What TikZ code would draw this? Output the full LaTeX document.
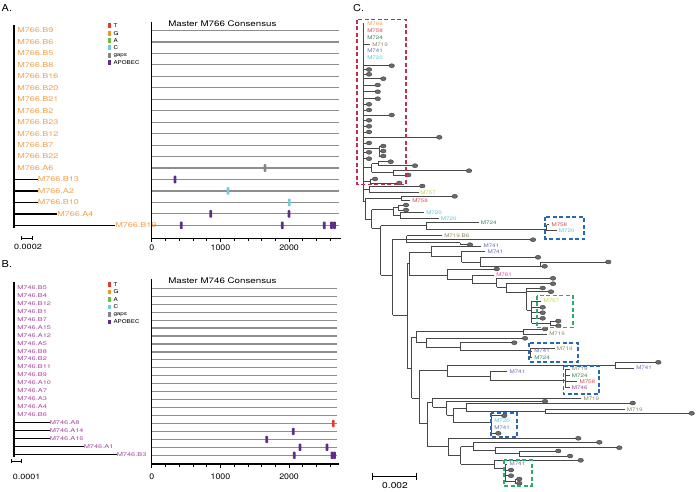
\documentclass[tikz,border=0pt]{standalone}
\usepackage{fontspec}
\setmainfont{TeX Gyre Heros}
\definecolor{cT}{HTML}{E33B2F}
\definecolor{cG}{HTML}{F7941E}
\definecolor{cA}{HTML}{6ABD45}
\definecolor{cC}{HTML}{6ECDE0}
\definecolor{cgap}{HTML}{858585}
\definecolor{capo}{HTML}{5E2D88}
\definecolor{orng}{HTML}{F5A04A}
\definecolor{mgnt}{HTML}{A5449D}
\definecolor{k758}{HTML}{DC4A4A}
\definecolor{k724}{HTML}{2E8A5A}
\definecolor{k719}{HTML}{8E8A5C}
\definecolor{k741}{HTML}{6B70B8}
\definecolor{k720}{HTML}{5CC6D6}
\definecolor{k757}{HTML}{C2D54C}
\definecolor{k761}{HTML}{E0509C}
\definecolor{boxred}{HTML}{C22E4C}
\definecolor{boxblue}{HTML}{2468B8}
\definecolor{boxgreen}{HTML}{25B06A}
\definecolor{linegray}{HTML}{8E8E8E}
\definecolor{treegray}{HTML}{474747}
\definecolor{dotfill}{HTML}{6B6B6B}
\definecolor{dotedge}{HTML}{3F3F3F}
\tikzset{
  panel/.style={anchor=west, inner sep=0pt, font=\fontsize{9.5}{10}\selectfont, xscale=1.15},
  seqA/.style={anchor=west, inner sep=0pt, text=orng, font=\fontsize{6.8}{7}\selectfont, xscale=1.33},
  seqB/.style={anchor=west, inner sep=0pt, text=mgnt, font=\fontsize{5.3}{6}\selectfont, xscale=1.4},
  keylab/.style={anchor=west, inner sep=0pt, font=\fontsize{5.3}{6}\selectfont, xscale=1.18},
  ttl/.style={anchor=west, inner sep=0pt, font=\fontsize{7.8}{8}\selectfont, xscale=1.25},
  ticklab/.style={inner sep=0pt, font=\fontsize{8}{8}\selectfont, xscale=1.1},
  scalelab/.style={inner sep=0pt, font=\fontsize{7.5}{8}\selectfont, xscale=1.2},
  clab/.style={anchor=west, inner sep=0pt, font=\fontsize{5}{5}\selectfont, xscale=1.25},
  tree/.style={line width=1.3pt, black},
  seqline/.style={line width=1.2pt, linegray},
  ctree/.style={line width=0.7pt, treegray},
  leaf/.style={fill=dotfill, draw=dotedge, line width=0.4pt},
  hibox/.style={line width=1.7pt, dash pattern=on 4pt off 2.5pt},
}
\begin{document}
\begin{tikzpicture}[x=1pt, y=-1pt]
\useasboundingbox (0,0) rectangle (696,491);

% panel A
\node[panel] (labA) at (1.5,8) {A.};
\draw[tree] (14,25) -- (14,228);
\foreach \nm [count=\i from 0] in {B9,B6,B5,B8,B16,B20,B21,B2,B23,B12,B7,B22,A6}
  \node[seqA] (a\nm) at (17,30.5+11.46*\i) {M766.\nm};
\foreach \nm/\xe/\i in {B13/34.5/13,A2/34.5/14,B10/34.5/15,A4/54/16,B19/112/17}{
  \node[seqA] (a\nm) at (\xe+3,30.5+11.46*\i) {M766.\nm};
  \draw[tree] (14,30.5+11.46*\i) -- (a\nm.west);
}
\draw[line width=0.9pt] (21.7,238) -- (32.3,238);
\draw[line width=0.9pt] (21.7,236) -- (21.7,240) (32.3,236) -- (32.3,240);
\node[scalelab] (sA) at (28,247) {0.0002};
\foreach \lb/\cc [count=\i from 0] in {T/cT,G/cG,A/cA,C/cC,gaps/cgap,APOBEC/capo}{
  \fill[\cc] (107.8,25.7+7.4*\i-2.5) rectangle (110.6,25.7+7.4*\i+2.5);
  \node[keylab] (kA\i) at (113.3,25.7+7.4*\i) {\lb};
}
\foreach \i in {0,...,17}
  \draw[seqline] (151.7,30.5+11.46*\i) -- (339,30.5+11.46*\i);
\draw[line width=1.1pt] (151.7,22) -- (151.7,238.3) -- (341,238.3);
\foreach \v in {0,200,...,2600}
  \draw[line width=0.7pt] (151.7+0.0687*\v,238.3) -- ++(0,2.5);
\foreach \v in {0,1000,2000}{
  \draw[line width=1pt] (151.7+0.0687*\v,238.3) -- ++(0,4);
  \node[ticklab] (tA\v) at (151.7+0.0687*\v,247.5) {\v};
}
\node[ttl] (mA) at (168,24) {Master M766 Consensus};
\foreach \xx/\yy/\cc in {265/168/cgap,175/179.5/capo,228/190.9/cC,289.3/202.4/cC,
    210.7/213.9/capo,289/213.9/capo,181.3/225.3/capo,282.3/225.3/capo,
    324.3/225.3/capo,331.5/225.3/capo,334.5/225.3/capo}
  \fill[\cc, rounded corners=0.8pt] (\xx-1.4,\yy-3.8) rectangle (\xx+1.4,\yy+3.8);

% panel B
\node[panel] (labB) at (1.5,264) {B.};
\draw[tree] (14,281.7) -- (14,457);
\foreach \nm [count=\i from 0] in {B5,B4,B12,B1,B7,A15,A12,A5,B8,B2,B11,B9,A10,A7,A3,A4,B6}
  \node[seqB] (b\nm) at (17,287.5+7.95*\i) {M746.\nm};
\foreach \nm/\xe/\i in {A8/47/17,A14/47/18,A16/47/19,A1/81/20,B3/114/21}{
  \node[seqB] (b\nm) at (\xe+2.5,287.5+7.95*\i) {M746.\nm};
  \draw[tree] (14,287.5+7.95*\i) -- (b\nm.west);
}
\draw[line width=0.9pt] (11,461) -- (21,461);
\draw[line width=0.9pt] (11,459) -- (11,463) (21,459) -- (21,463);
\node[scalelab] (sB) at (26.7,476.7) {0.0001};
\foreach \lb/\cc [count=\i from 0] in {T/cT,G/cG,A/cA,C/cC,gaps/cgap,APOBEC/capo}{
  \fill[\cc] (107.8,284.3+7.55*\i-2.3) rectangle (110.6,284.3+7.55*\i+2.3);
  \node[keylab] (kB\i) at (113.3,284.3+7.55*\i) {\lb};
}
\foreach \i in {0,...,21}
  \draw[seqline] (151.7,288.3+7.95*\i) -- (336.7,288.3+7.95*\i);
\draw[line width=1.1pt] (151.7,279) -- (151.7,464) -- (339,464);
\foreach \v in {0,200,...,2600}
  \draw[line width=0.7pt] (151.7+0.0687*\v,464) -- ++(0,2.5);
\foreach \v in {0,1000,2000}{
  \draw[line width=1pt] (151.7+0.0687*\v,464) -- ++(0,4);
  \node[ticklab] (tB\v) at (151.7+0.0687*\v,476.7) {\v};
}
\node[ttl] (mB) at (168,281) {Master M746 Consensus};
\foreach \xx/\yy/\cc in {333.3/423.5/cT,293.3/431.4/capo,266.7/439.4/capo,300/447.3/capo,
    327/447.3/capo,294.3/455.3/capo,332/455.3/capo,334.5/455.3/capo}
  \fill[\cc, rounded corners=0.8pt] (\xx-1.4,\yy-3.6) rectangle (\xx+1.4,\yy+3.6);

% panel C
\node[panel] (labC) at (353,8) {C.};
\foreach \xa/\xb/\yy in {363/370/44.3,
    363/389/65.7, 363/366.4/69.5, 363/366.4/74.3, 363/380.7/78.7, 363/375/85, 363/375/91.7,
    363/375/98.7, 363/366.4/104.3, 363/366.4/110, 363/389/115, 363/366.4/120.3, 363/366.4/126.3,
    363/366.4/132, 363/436.6/137.3, 363/366.4/143, 363/379/148.5, 379/380.7/146, 379/380.7/151,
    379/380.7/156, 363/366.4/152.3, 363/366.4/158.7,
    363/371.7/167.5, 371.7/378.3/163.7, 378.3/388/161.7, 378.3/412.3/165.7, 371.7/393.3/172,
    393.3/466.3/170.7, 393.3/405.6/175,
    363/370/181, 370/372.3/179, 370/396.6/183,
    363/369.3/189.3, 369.3/419.6/186, 369.3/418.5/192.7,
    363/365/201.7,
    365/401.7/198.5, 401.7/452/196.3, 401.7/410/200.7,
    365/371.7/219,
    371.7/393.3/209.5, 393.3/398/207.5, 398/403.4/205, 398/403.4/210, 393.3/400/215.3,
    400/424/212.3, 400/438.6/218.3,
    371.7/380.7/228.3,
    380.7/426/225.7, 426/478.6/222.3, 426/546.7/229.3, 546.7/549.2/224.7, 546.7/556.6/230.7,
    380.7/392.7/275,
    392.7/406.7/239.3, 406.7/442/235.7, 406.7/530.3/239.7, 406.7/460/242.7, 460/467.3/244.7,
    392.7/407.3/315,
    407.3/409.3/263.3,
    409.3/431.7/252.7, 431.7/481/246, 431.7/461.7/256.7, 461.7/485/251.3, 461.7/480/262,
    480/535.3/257.3, 480/542/266.3, 540/605.6/262,
    409.3/447.3/275, 447.3/494/269, 447.3/472.3/279.3, 472.3/494/275, 472.3/496.7/283.3,
    496.7/550.3/278.3, 496.7/506/287.3, 506/550.3/283.7, 506/526.7/292.7, 526.7/540/288,
    526.7/548.3/291.7, 526.7/531.7/310, 531.7/541/301, 531.7/540/307.3, 531.7/540/312.7,
    531.7/540/318.3, 531.7/550/323.3, 550/555.6/321, 550/555.6/325.7,
    407.3/411.7/368.3,
    411.7/416/337, 416/523.3/331.5, 523.3/542.3/329, 523.3/547/334, 416/426.7/342.7,
    426.7/522.3/338.3, 426.7/460/347.7, 460/511.6/342.7, 460/530/350, 530/554.6/348.3,
    530/532/351, 530/532/357.7,
    411.7/419.3/398.3,
    419.3/447.7/370, 447.7/615/365.2, 615/655.6/362.3, 615/634/368, 447.7/490/376.7,
    490/507/371.7, 490/565/380.7, 565/569.6/369, 565/569.6/375.7, 565/577/381.7, 565/569.6/387.7,
    419.3/427.7/423.3,
    427.7/432.7/402.3, 432.7/581.2/398.3, 432.7/446.7/407, 446.7/542.3/401.3, 446.7/453.3/415,
    453.3/466/408.3, 466/630/403, 466/545/411.7, 545/624.6/409.3, 545/689/413.3,
    453.3/491.7/422.3, 491.7/501.6/415.7, 491.7/495.6/433.3,
    427.7/448.3/446.7, 448.3/575.6/438.3, 448.3/460.7/455, 460.7/473.3/446.7, 473.3/596.6/442.3,
    473.3/495/450, 495/616.6/447.7, 495/519.3/453.3, 519.3/555.6/451, 519.3/567.3/456,
    460.7/494/464, 494/578/460.3, 494/505/468, 505/507/464, 505/508.3/470, 505/508.3/475.7,
    505/515/481, 515/516.6/479, 515/516.6/483.3}
  \draw[ctree] (\xa,\yy) -- (\xb,\yy);
\foreach \xx/\ya/\yb in {363/23/201.7, 379/146/156, 371.7/163.7/172, 378.3/161.7/165.7,
    393.3/170.7/175, 370/179/183, 369.3/186/192.7,
    365/198.5/219, 401.7/196.3/200.7, 371.7/209.5/228.3, 393.3/207.5/215.3, 398/205/210,
    400/212.3/218.3,
    380.7/225.7/275, 426/222.3/229.3, 546.7/224.7/230.7,
    392.7/239.3/315, 406.7/235.7/242.7, 460/242.7/244.7,
    407.3/263.3/368.3, 409.3/252.7/275, 431.7/246/256.7, 461.7/251.3/262, 480/257.3/266.3,
    540/262/266.3,
    447.3/269/279.3, 472.3/275/283.3, 496.7/278.3/287.3, 506/283.7/292.7, 526.7/288/310,
    531.7/301/323.3, 550/321/325.7,
    411.7/337/398.3, 416/331.5/342.7, 523.3/329/334, 426.7/338.3/347.7, 460/342.7/350,
    530/348.3/357.7,
    419.3/370/423.3, 447.7/365.2/376.7, 615/362.3/368, 490/371.7/380.7, 565/369/387.7,
    427.7/402.3/446.7, 432.7/398.3/407, 446.7/401.3/415, 453.3/408.3/422.3, 466/403/411.7,
    545/409.3/413.3, 491.7/415.7/433.3,
    448.3/438.3/455, 460.7/446.7/464, 473.3/442.3/450, 495/447.7/453.3, 519.3/451/456,
    494/460.3/468, 505/464/481, 515/479/483.3}
  \draw[ctree] (\xx,\ya) -- (\xx,\yb);
\foreach \xx/\yy in {391.7/65.7, 369/69.5, 369/74.3, 383.3/78.7, 377.7/85, 377.7/91.7,
    377.7/98.7, 369/104.3, 369/110, 391.7/115, 369/120.3, 369/126.3, 369/132, 439.3/137.3,
    369/143, 383.3/146, 383.3/151, 383.3/156, 369/152.3, 369/158.7, 390.7/161.7, 415/165.7,
    469/170.7, 408.3/175, 375/179, 399.3/183, 422.3/186,
    454.7/196.3, 406/205, 406/210,
    533/239.7, 470/244.7,
    538/257.3, 608.3/262, 544.7/266.3, 496.7/269, 553/278.3, 553/283.7, 542.7/288, 551/291.7,
    542.7/307.3, 542.7/312.7, 542.7/318.3, 558.3/321, 558.3/325.7,
    545/329, 525/338.3, 514.3/342.7,
    658.3/362.3,
    545/401.3, 632.7/403, 691.7/413.3, 504.3/415.7, 498.3/433.3,
    578.3/438.3, 599.3/442.3, 619.3/447.7, 558.3/451, 570/456, 580.7/460.3, 511/470,
    511/475.7, 519.3/479, 519.3/483.3}
  \filldraw[leaf] (\xx,\yy) ellipse [x radius=2.8pt, y radius=2pt];
\foreach \xx/\yy/\cc/\lbl [count=\k] in {367/24/orng/M766, 367/31/k758/M758,
    367/37.7/k724/M724, 372/44.3/k719/M719, 367/51/k741/M741, 367/57.7/k720/M720,
    420/192.7/k757/M757, 412/200.7/k758/M758, 426/212.3/k720/M720, 440.7/218.3/k720/M720,
    480.7/222.3/k724/M724, 551.3/224.7/k758/M758, 558.7/230.7/k720/M720,
    444/235.7/k719/M719.B6, 483.3/246/k741/M741, 487.3/251.3/k741/M741, 496/275/k761/M761,
    543.3/301/k757/M757,
    549/334/k719/M719, 556.7/348.3/k719/M719, 534/351/k741/M741, 534/357.7/k724/M724,
    636/368/k741/M741, 509.3/371.7/k741/M741, 571.7/369/k719/M719, 571.7/375.7/k724/M724,
    579.3/381.7/k758/M758, 571.7/387.7/mgnt/M746,
    583.3/398.3/k719/M719, 626.7/409.3/k719/M719, 494/421/k720/M720, 494/427.7/k741/M741,
    509.3/464/k741/M741}
  \node[clab, text=\cc] (c\k) at (\xx,\yy) {\lbl};
\draw[hibox, boxred] (357.3,19.5) rectangle (406,184.5);
\draw[hibox, boxblue] (545.3,216.7) rectangle (584,239);
\draw[hibox, boxgreen] (536.7,295.5) rectangle (573.3,327.5);
\draw[hibox, boxblue] (529,343.3) rectangle (578.3,361.7);
\draw[hibox, boxblue] (563.5,366) rectangle (599,394.3);
\draw[hibox, boxblue] (490.7,412.7) rectangle (516.7,437.3);
\draw[hibox, boxgreen] (504,460) rectangle (531.7,485.7);
\draw[line width=1pt] (372.7,476.7) -- (416.7,476.7);
\draw[line width=1pt] (372.7,473) -- (372.7,480.4) (416.7,473) -- (416.7,480.4);
\node[scalelab, font=\fontsize{8.5}{9}\selectfont] (sC) at (395,486) {0.002};
\end{tikzpicture}
\end{document}
